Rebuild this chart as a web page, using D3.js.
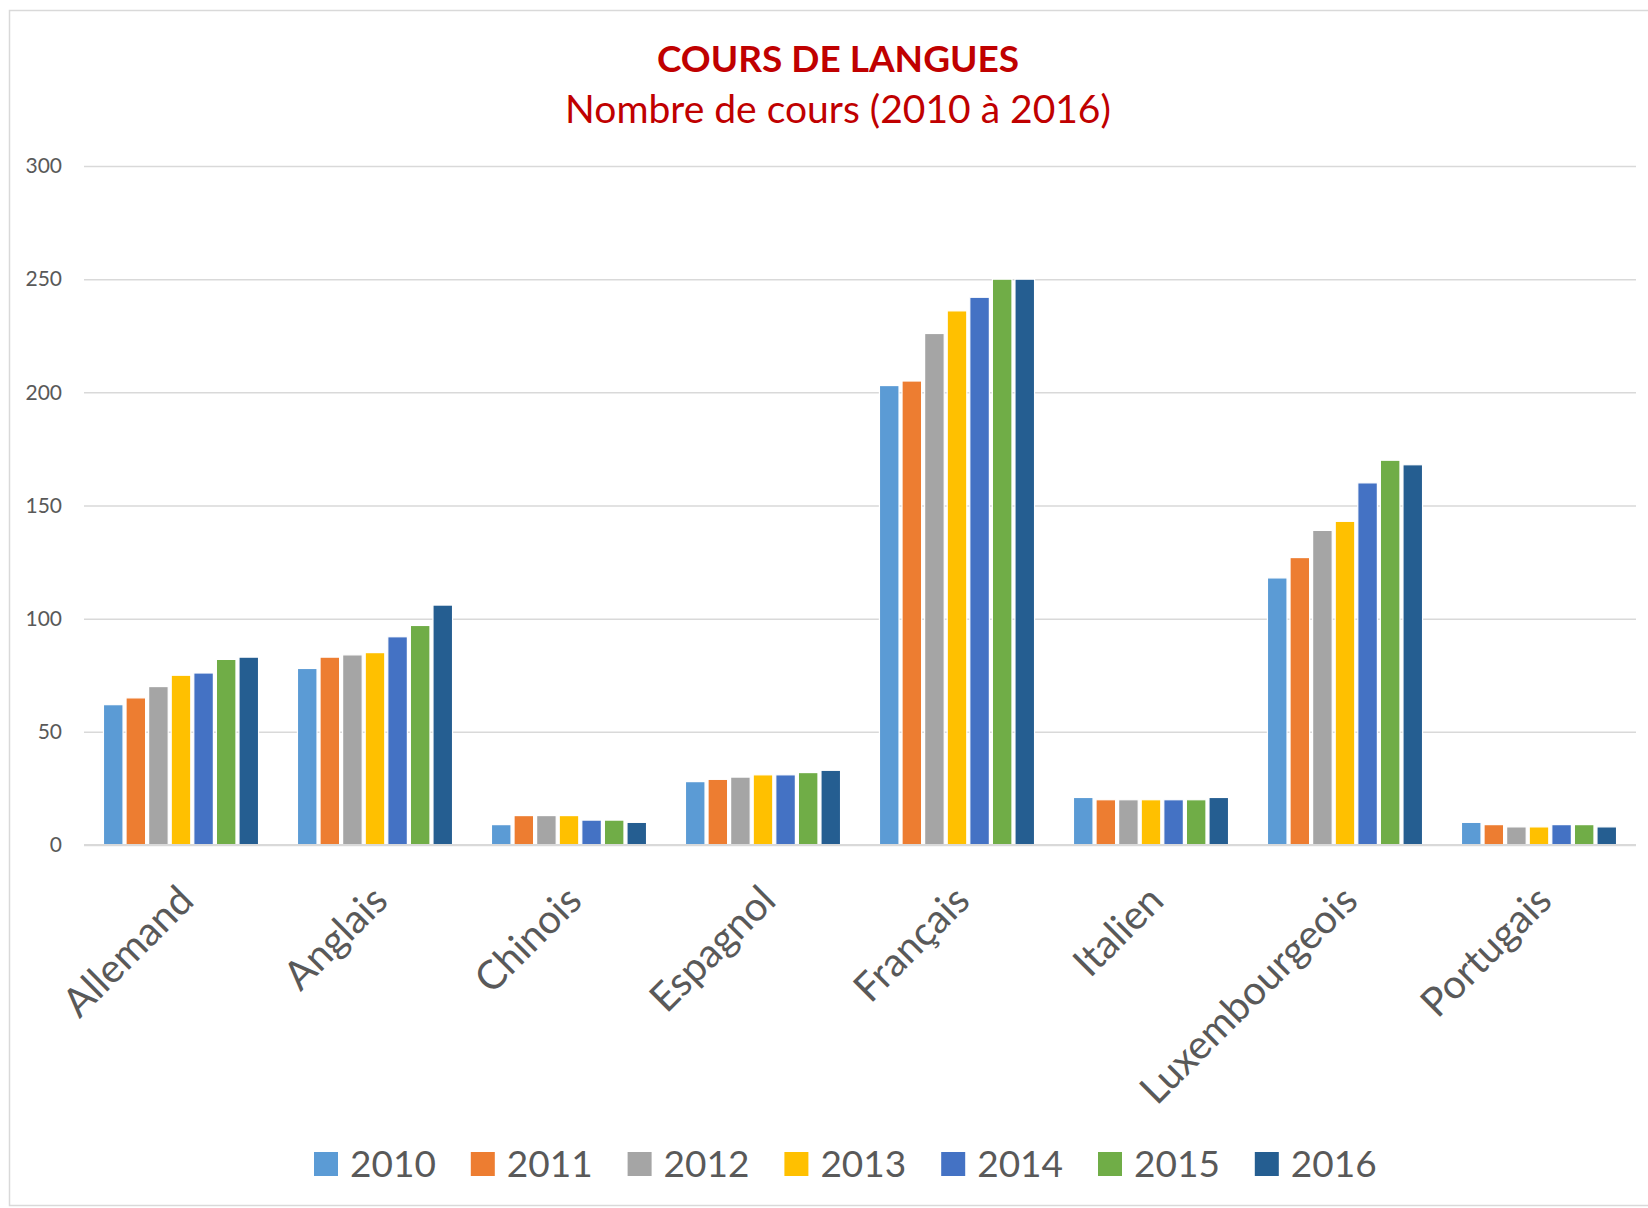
<!DOCTYPE html>
<html>
<head>
<meta charset="utf-8">
<script src="https://cdn.jsdelivr.net/npm/d3@7"></script>
<style>
  body { margin: 0; background: #fff; }
  text { font-family: Lato, "Open Sans", sans-serif; }
</style>
</head>
<body>
<script>
var width = 1648;
var height = 1208;

var categories = ["Allemand", "Anglais", "Chinois", "Espagnol", "Français", "Italien", "Luxembourgeois", "Portugais"];
var years = ["2010", "2011", "2012", "2013", "2014", "2015", "2016"];
var colors = ["#5B9BD5", "#ED7D31", "#A5A5A5", "#FFC000", "#4472C4", "#70AD47", "#255E91"];

// one array per year, in category order
var v2010 = [62, 78, 9, 28, 203, 21, 118, 10];
var v2011 = [65, 83, 13, 29, 205, 20, 127, 9];
var v2012 = [70, 84, 13, 30, 226, 20, 139, 8];
var v2013 = [75, 85, 13, 31, 236, 20, 143, 8];
var v2014 = [76, 92, 11, 31, 242, 20, 160, 9];
var v2015 = [82, 97, 11, 32, 250, 20, 170, 9];
var v2016 = [83, 106, 10, 33, 250, 21, 168, 8];
var series = [v2010, v2011, v2012, v2013, v2014, v2015, v2016];
var yTicks = [0, 50, 100, 150, 200, 250, 300];

var svg = d3.select("body").append("svg")
  .attr("width", width)
  .attr("height", height);

// chart frame
svg.append("rect")
  .attr("x", 9.5).attr("y", 10.5)
  .attr("width", 1700).attr("height", 1195)
  .attr("fill", "#fff")
  .attr("stroke", "#D9D9D9")
  .attr("stroke-width", 1.5);

var x0 = d3.scaleBand()
  .domain(categories)
  .range([84, 1636])
  .paddingInner(0.185)
  .paddingOuter(0.0925);

var x1 = d3.scaleBand()
  .domain(years)
  .range([0, x0.bandwidth()]);

var y = d3.scaleLinear()
  .domain([0, 300])
  .range([845, 166]);

// titles
svg.append("text")
  .attr("x", 838).attr("y", 72)
  .attr("text-anchor", "middle")
  .attr("fill", "#C00000")
  .style("font-size", "37px")
  .style("font-weight", "bold")
  .text("COURS DE LANGUES");

svg.append("text")
  .attr("x", 838).attr("y", 123)
  .attr("text-anchor", "middle")
  .attr("fill", "#C00000")
  .style("font-size", "39px")
  .text("Nombre de cours (2010 à 2016)");

// gridlines + y labels
var yAxis = d3.axisLeft(y)
  .tickValues(yTicks)
  .tickSize(-(1636 - 84))
  .tickPadding(22);

var gy = svg.append("g")
  .attr("transform", "translate(84,0)")
  .call(yAxis);
gy.select(".domain").remove();
gy.selectAll(".tick line")
  .attr("stroke", "#D9D9D9")
  .attr("stroke-width", 1.5);
gy.selectAll(".tick text")
  .attr("fill", "#595959")
  .style("font-size", "21px")
  .style("font-family", "Lato, sans-serif");

// bars
var groups = svg.append("g")
  .selectAll("g")
  .data(categories)
  .enter().append("g")
    .attr("transform", function(d) { return "translate(" + x0(d) + ",0)"; });

groups.selectAll("rect")
  .data(function(d, i) {
    return years.map(function(yr, j) { return { year: yr, value: series[j][i], color: colors[j] }; });
  })
  .enter().append("rect")
    .attr("x", function(d) { return x1(d.year) + 1.5; })
    .attr("width", x1.bandwidth() - 3)
    .attr("y", function(d) { return y(d.value); })
    .attr("height", function(d) { return y(0) - y(d.value); })
    .attr("fill", function(d) { return d.color; })
    .attr("stroke", "#fff")
    .attr("stroke-width", 1.2);

// x axis line + rotated category labels
var xAxis = d3.axisBottom(x0).tickSize(0).tickPadding(0);
var gx = svg.append("g")
  .attr("transform", "translate(0," + y(0) + ")")
  .call(xAxis);
gx.select(".domain")
  .attr("stroke", "#D9D9D9")
  .attr("stroke-width", 2)
  .attr("d", "M84,0H1636");
gx.selectAll(".tick text")
  .attr("fill", "#595959")
  .style("font-size", "40px")
  .style("font-family", "Lato, sans-serif")
  .attr("text-anchor", "end")
  .attr("dy", "0.35em")
  .attr("transform", "translate(5,48) rotate(-45)")
  .attr("y", 0);

// legend
var legend = svg.append("g")
  .selectAll("g")
  .data(years)
  .enter().append("g")
    .attr("transform", function(d, i) { return "translate(" + (314 + i * 156.8) + ",1152)"; });

legend.append("rect")
  .attr("width", 24).attr("height", 24)
  .attr("fill", function(d, i) { return colors[i]; });

legend.append("text")
  .attr("x", 36).attr("y", 25)
  .attr("fill", "#595959")
  .style("font-size", "37px")
  .text(function(d) { return d; });
</script>
</body>
</html>
